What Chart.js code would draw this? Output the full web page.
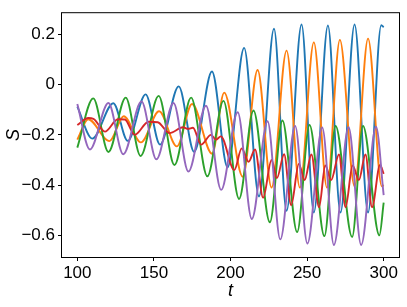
<!DOCTYPE html>
<html>
<head>
<meta charset="utf-8">
<script src="https://cdn.jsdelivr.net/npm/chart.js@4"></script>
<style>
  html, body { margin: 0; padding: 0; background: #fff; }
</style>
</head>
<body>
<canvas id="chart" width="407" height="307"></canvas>
<script>
// Values (peaks / troughs of each curve)
const blueT = [100, 109.8, 123.5, 132.9, 144.6, 154, 166.2, 176.3, 187.9, 198.1, 208.9, 218.6, 228.4, 236.6, 246.4, 254.4, 263.6, 271.8, 281, 289.8, 298.4, 300];
const blueS = [-0.088, -0.215, -0.074, -0.224, -0.039, -0.239, -0.007, -0.268, 0.052, -0.329, 0.146, -0.445, 0.222, -0.502, 0.239, -0.509, 0.235, -0.509, 0.239, -0.509, 0.236, 0.228];

const orangeT = [100, 107.1, 121, 130.3, 141.5, 153.4, 165, 174.9, 188, 195.9, 208, 217.7, 226.8, 236.6, 245.3, 254.4, 263, 271.4, 281, 289.8, 298.8, 300];
const orangeS = [-0.219, -0.138, -0.225, -0.126, -0.23, -0.106, -0.246, -0.077, -0.275, -0.032, -0.367, 0.058, -0.41, 0.135, -0.41, 0.168, -0.41, 0.178, -0.405, 0.183, -0.405, -0.40];

const greenT = [100, 110.4, 120.3, 131.6, 141.3, 153.1, 163.4, 174.3, 184.9, 195.4, 205.6, 215, 225.7, 233.9, 243.5, 251.6, 261.3, 268.6, 279.4, 286.5, 297.2, 300];
const greenS = [-0.251, -0.055, -0.268, -0.052, -0.284, -0.045, -0.320, -0.052, -0.365, -0.065, -0.455, -0.103, -0.548, -0.143, -0.587, -0.161, -0.603, -0.165, -0.606, -0.165, -0.600, -0.47];

const redT = [100, 107.2, 110.5, 118, 126.5, 131, 137.5, 146.5, 152.5, 160.2, 169, 172.3, 175.5, 180.8, 187.3, 190.5, 193.7, 202.5, 207.3, 211.8, 216, 221.3, 226.8, 230.3, 235, 239.6, 244.6, 248.4, 252.8, 257.8, 261.9, 265.7, 270.8, 275.1, 279.7, 283.8, 288.1, 292.4, 297.6, 300];
const redS = [-0.161, -0.133, -0.136, -0.187, -0.138, -0.139, -0.200, -0.148, -0.150, -0.193, -0.170, -0.176, -0.172, -0.239, -0.200, -0.219, -0.206, -0.340, -0.254, -0.307, -0.258, -0.450, -0.300, -0.372, -0.277, -0.480, -0.316, -0.380, -0.278, -0.488, -0.322, -0.380, -0.278, -0.488, -0.322, -0.380, -0.278, -0.488, -0.320, -0.355];

const purpleT = [100, 108.2, 120.3, 130, 141.9, 151.6, 162.8, 172.5, 184, 193.9, 204.7, 213.9, 224.2, 232.5, 242.2, 250.2, 259.9, 267.5, 277.1, 285.3, 295, 300];
const purpleS = [-0.077, -0.258, -0.073, -0.277, -0.067, -0.297, -0.073, -0.346, -0.084, -0.419, -0.110, -0.535, -0.146, -0.616, -0.165, -0.632, -0.171, -0.638, -0.170, -0.638, -0.168, -0.44];

const xTicks = [100, 150, 200, 250, 300];
const yTicks = [-0.6, -0.4, -0.2, 0, 0.2];

function pts(ts, ss) {
  return ts.map((t, i) => ({ x: t, y: ss[i] }));
}

function line(ts, ss, color, order) {
  return {
    data: pts(ts, ss),
    borderColor: color,
    borderWidth: 1.9,
    pointRadius: 0,
    fill: false,
    cubicInterpolationMode: "monotone",
    order: order,
  };
}

// box round the plot area, like matplotlib spines
const frame = {
  id: "frame",
  afterDraw(chart) {
    const { ctx, chartArea: a } = chart;
    ctx.save();
    ctx.strokeStyle = "#000";
    ctx.lineWidth = 1;
    ctx.strokeRect(a.left - 0.5, a.top - 0.5, a.right - a.left + 1, a.bottom - a.top + 1);
    ctx.restore();
  },
};

const tickFont = { family: "'Liberation Sans', Arial, sans-serif", size: 17 };
const titleFont = { family: "'Liberation Sans', Arial, sans-serif", size: 18, style: "italic" };

new Chart(document.getElementById("chart"), {
  type: "line",
  data: {
    datasets: [
      line(blueT, blueS, "#1f77b4", 5),
      line(orangeT, orangeS, "#ff7f0e", 4),
      line(greenT, greenS, "#2ca02c", 3),
      line(redT, redS, "#d62728", 2),
      line(purpleT, purpleS, "#9467bd", 1),
    ],
  },
  options: {
    responsive: false,
    animation: false,
    layout: { padding: { top: 7, right: 8, left: 0, bottom: 0 } },
    plugins: { legend: { display: false }, tooltip: { enabled: false } },
    scales: {
      x: {
        type: "linear",
        min: 90,
        max: 310,
        afterBuildTicks: (s) => { s.ticks = xTicks.map((v) => ({ value: v })); },
        afterFit: (s) => { s.height = 50; },
        grid: { drawOnChartArea: false, drawTicks: true, tickLength: 4, tickColor: "#000" },
        border: { display: false },
        ticks: { color: "#000", font: tickFont, padding: 2, maxRotation: 0 },
        title: { display: true, text: "t", color: "#000", font: titleFont, padding: { top: 0, bottom: 5 } },
      },
      y: {
        type: "linear",
        min: -0.686,
        max: 0.284,
        afterBuildTicks: (s) => { s.ticks = yTicks.map((v) => ({ value: v })); },
        afterFit: (s) => { s.width = 62; },
        grid: { drawOnChartArea: false, drawTicks: true, tickLength: 4, tickColor: "#000" },
        border: { display: false },
        ticks: {
          color: "#000",
          font: tickFont,
          padding: 3,
          callback: (v) => (Math.abs(v) < 1e-9 ? "0" : (v < 0 ? "\u2212" : "") + Math.abs(v).toFixed(1)),
        },
        title: { display: true, text: "S", color: "#000", font: titleFont, padding: { top: 3, bottom: 0 } },
      },
    },
  },
  plugins: [frame],
});
</script>
</body>
</html>
